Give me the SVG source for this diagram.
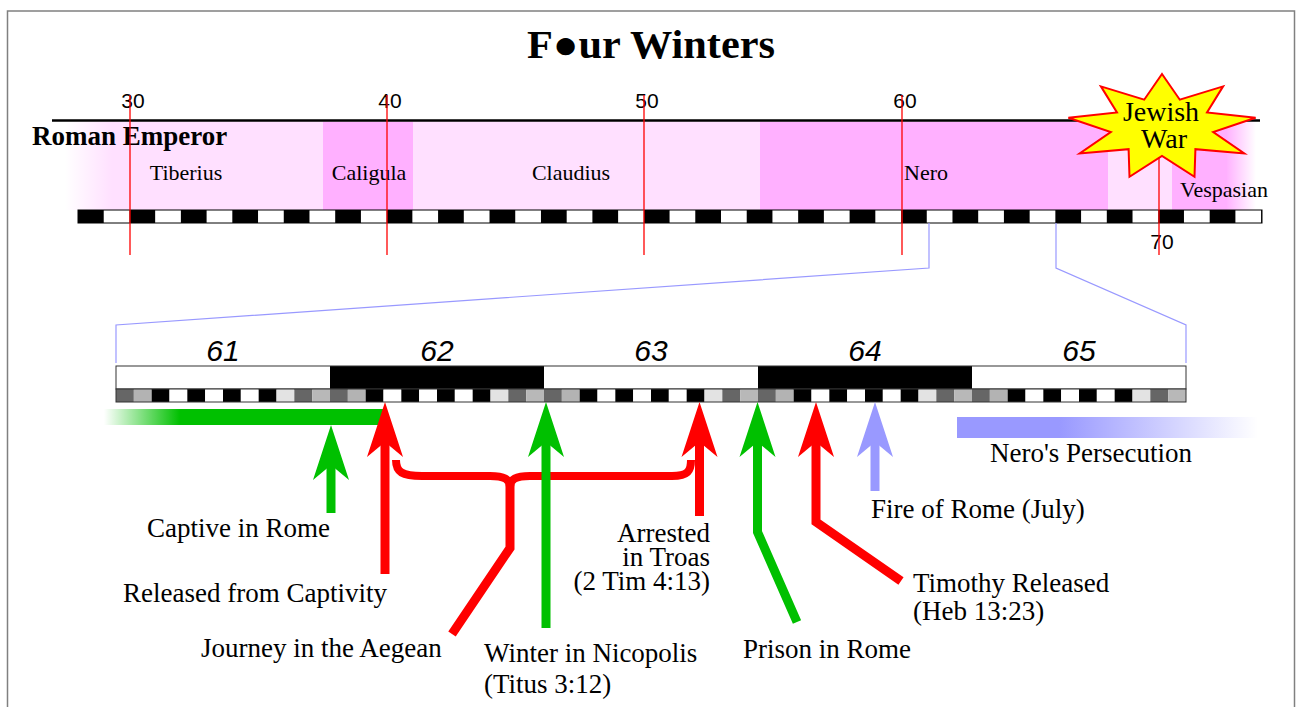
<svg xmlns="http://www.w3.org/2000/svg" width="1299" height="707" viewBox="0 0 1299 707">
<style>
.serif{font-family:"Liberation Serif","Times New Roman",serif;fill:#000}
.sans{font-family:"Liberation Sans",Arial,sans-serif;fill:#000}
.emp{font-size:22px;text-anchor:middle}
.yr{font-size:21px;text-anchor:middle}
.yr2{font-size:30px;font-style:italic;text-anchor:middle}
.lbl{font-size:27px}
.shaft{fill:none;stroke-width:9;stroke-linejoin:miter;stroke-linecap:butt}
.yline{stroke:#ff0000;stroke-width:1.3}
.conn{stroke:#9999ff;stroke-width:1.2;fill:none}
</style>
<defs>
<linearGradient id="tibG" gradientUnits="userSpaceOnUse" x1="65" y1="0" x2="112" y2="0">
<stop offset="0" stop-color="#ffe0ff" stop-opacity="0"/><stop offset="1" stop-color="#ffe0ff" stop-opacity="1"/>
</linearGradient>
<linearGradient id="vesG" gradientUnits="userSpaceOnUse" x1="1226" y1="0" x2="1256" y2="0">
<stop offset="0" stop-color="#ffb0ff" stop-opacity="1"/><stop offset="1" stop-color="#ffb0ff" stop-opacity="0"/>
</linearGradient>
<linearGradient id="grnG" gradientUnits="userSpaceOnUse" x1="104" y1="0" x2="180" y2="0">
<stop offset="0" stop-color="#00c000" stop-opacity="0"/><stop offset="1" stop-color="#00c000" stop-opacity="1"/>
</linearGradient>
<linearGradient id="nerG" gradientUnits="userSpaceOnUse" x1="957" y1="0" x2="1258" y2="0">
<stop offset="0" stop-color="#9999ff" stop-opacity="1"/><stop offset="0.34" stop-color="#9999ff" stop-opacity="1"/><stop offset="1" stop-color="#9999ff" stop-opacity="0"/>
</linearGradient>
<pattern id="chk" x="78" y="210" width="51.44" height="13" patternUnits="userSpaceOnUse">
<rect x="0" y="0" width="25.72" height="13" fill="#000"/><rect x="25.72" y="0" width="25.72" height="13" fill="#fff"/>
</pattern>
<pattern id="mon" x="116" y="389" width="214" height="13" patternUnits="userSpaceOnUse">
<rect x="0" width="17.84" height="13" fill="#666"/>
<rect x="17.83" width="17.84" height="13" fill="#b3b3b3"/>
<rect x="35.67" width="17.84" height="13" fill="#000"/>
<rect x="53.5" width="17.84" height="13" fill="#fff"/>
<rect x="71.33" width="17.84" height="13" fill="#000"/>
<rect x="89.17" width="17.84" height="13" fill="#fff"/>
<rect x="107" width="17.84" height="13" fill="#000"/>
<rect x="124.83" width="17.84" height="13" fill="#fff"/>
<rect x="142.67" width="17.84" height="13" fill="#000"/>
<rect x="160.5" width="17.84" height="13" fill="#e3e3e3"/>
<rect x="178.33" width="17.84" height="13" fill="#666"/>
<rect x="196.17" width="17.83" height="13" fill="#b8b8b8"/>
</pattern>
</defs>

<rect x="0" y="0" width="1299" height="707" fill="#fff"/>
<rect id="frame" x="7.5" y="11" width="1287" height="720" fill="none" stroke="#808080" stroke-width="1.5"/>

<text id="title" class="serif" x="651" y="58" font-size="40" font-weight="bold" text-anchor="middle" textLength="248" lengthAdjust="spacingAndGlyphs">F●ur Winters</text>

<g id="emperors">
<rect x="65" y="121.5" width="50" height="88.5" fill="url(#tibG)"/>
<rect x="112" y="121.5" width="211" height="88.5" fill="#ffe0ff"/>
<rect x="323" y="121.5" width="90" height="88.5" fill="#ffb0ff"/>
<rect x="413" y="121.5" width="347" height="88.5" fill="#ffe0ff"/>
<rect x="760" y="121.5" width="348" height="88.5" fill="#ffb0ff"/>
<rect x="1108" y="121.5" width="64" height="88.5" fill="#ffe0ff"/>
<rect x="1172" y="121.5" width="55" height="88.5" fill="#ffb0ff"/>
<rect x="1226" y="121.5" width="31" height="88.5" fill="url(#vesG)"/>
<line x1="52" y1="120.5" x2="1260" y2="120.5" stroke="#000" stroke-width="2.4"/>
<text class="serif" x="32" y="145" font-size="27" font-weight="bold">Roman Emperor</text>
<text class="serif emp" x="186" y="180">Tiberius</text>
<text class="serif emp" x="369" y="180">Caligula</text>
<text class="serif emp" x="571" y="180">Claudius</text>
<text class="serif emp" x="926" y="180">Nero</text>
<text class="serif emp" x="1224" y="197">Vespasian</text>
</g>

<g id="scale-top">
<rect x="78" y="210" width="1184" height="13" fill="url(#chk)" stroke="#000" stroke-width="1"/>
<text class="sans yr" x="133" y="108">30</text>
<text class="sans yr" x="390" y="108">40</text>
<text class="sans yr" x="647" y="108">50</text>
<text class="sans yr" x="905" y="108">60</text>
<text class="sans yr" x="1162" y="249">70</text>
<line class="yline" x1="130" y1="95" x2="130" y2="255"/>
<line class="yline" x1="387" y1="95" x2="387" y2="255"/>
<line class="yline" x1="644" y1="95" x2="644" y2="255"/>
<line class="yline" x1="902" y1="95" x2="902" y2="255"/>
</g>

<g id="jewish-war">
<polygon points="1162,74 1179.8,99.7 1223.1,86.4 1207,112.5 1255.6,117.8 1213.2,132 1244.3,153.5 1195.4,149.2 1194.5,176.8 1162,156 1129.5,176.8 1128.6,149.2 1079.7,153.5 1110.8,132 1068.4,117.8 1117,112.5 1100.9,86.4 1144.2,99.7" fill="#ffff00" stroke="#ff0000" stroke-width="2" stroke-linejoin="miter"/>
<text class="serif" x="1161" y="121" font-size="28" text-anchor="middle">Jewish</text>
<text class="serif" x="1164" y="148" font-size="28" text-anchor="middle">War</text>
<line class="yline" x1="1159" y1="157" x2="1159" y2="255"/>
</g>

<g id="zoom-connectors">
<polyline class="conn" points="116,363 116,325 929,268 929,223"/>
<polyline class="conn" points="1056,223 1056,268 1186,325 1186,363"/>
</g>

<g id="scale-detail">
<rect x="116" y="366" width="214" height="23" fill="#fff"/>
<rect x="330" y="366" width="214" height="23" fill="#000"/>
<rect x="544" y="366" width="214" height="23" fill="#fff"/>
<rect x="758" y="366" width="214" height="23" fill="#000"/>
<rect x="972" y="366" width="214" height="23" fill="#fff"/>
<rect x="116" y="366" width="1070" height="23" fill="none" stroke="#333" stroke-width="1"/>
<rect x="116" y="389" width="1070" height="13" fill="url(#mon)" stroke="#333" stroke-width="1"/>
<text class="sans yr2" x="223" y="361">61</text>
<text class="sans yr2" x="437" y="361">62</text>
<text class="sans yr2" x="651" y="361">63</text>
<text class="sans yr2" x="865" y="361">64</text>
<text class="sans yr2" x="1079" y="361">65</text>
</g>

<g id="periods">
<rect x="104" y="409" width="279" height="16" fill="url(#grnG)"/>
<rect x="957" y="417" width="301" height="21" fill="url(#nerG)"/>
<text class="serif lbl" x="990" y="462">Nero's Persecution</text>
</g>

<g id="connectors">
<g id="captive" fill="#00c000" stroke="#00c000">
<path class="shaft" d="M331,462 V513"/>
<polygon stroke="none" points="331,425 349,480 331,465 313,480"/>
</g>
<g id="released" fill="#ff0000" stroke="#ff0000">
<path class="shaft" d="M385,440 V574"/>
<polygon stroke="none" points="385,402 403,457 385,442 367,457"/>
</g>
<g id="journey">
<path d="M396,460 C396,472 402,476 422,476 L490,476 C504,476 510,479 510,487 C510,479 516,476 530,476 L672,476 C688,476 691,471 691,460" fill="none" stroke="#ff0000" stroke-width="8"/>
<path d="M510,484 V548 L452,634" fill="none" stroke="#ff0000" stroke-width="9" stroke-linejoin="miter"/>
</g>
<g id="winter" fill="#00c000" stroke="#00c000">
<path class="shaft" d="M546,440 V628"/>
<polygon stroke="none" points="546,402 564,457 546,442 528,457"/>
</g>
<g id="arrested" fill="#ff0000" stroke="#ff0000">
<path class="shaft" d="M699.5,440 V516"/>
<polygon stroke="none" points="699.5,402 717.5,457 699.5,442 681.5,457"/>
</g>
<g id="prison" fill="#00c000" stroke="#00c000">
<path class="shaft" d="M757.5,440 V532 L797,622"/>
<polygon stroke="none" points="757.5,402 775.5,457 757.5,442 739.5,457"/>
</g>
<g id="timothy" fill="#ff0000" stroke="#ff0000">
<path class="shaft" d="M816,440 V522 L901,581"/>
<polygon stroke="none" points="816,402 834,457 816,442 798,457"/>
</g>
<g id="fire" fill="#9999ff" stroke="#9999ff">
<path class="shaft" d="M875,440 V491"/>
<polygon stroke="none" points="875,402 893,457 875,442 857,457"/>
</g>
</g>

<g id="labels">
<text id="t-captive" class="serif lbl" x="147" y="537">Captive in Rome</text>
<text id="t-released" class="serif lbl" x="123" y="602">Released from Captivity</text>
<text id="t-journey" class="serif lbl" x="201" y="657">Journey in the Aegean</text>
<text id="t-winter" class="serif lbl" x="484" y="662">Winter in Nicopolis<tspan x="484" y="693">(Titus 3:12)</tspan></text>
<text id="t-arrested" class="serif lbl" text-anchor="end" x="710" y="542">Arrested<tspan x="710" y="566">in Troas</tspan><tspan x="710" y="590">(2 Tim 4:13)</tspan></text>
<text id="t-prison" class="serif lbl" x="743" y="658">Prison in Rome</text>
<text id="t-fire" class="serif lbl" x="871" y="518">Fire of Rome (July)</text>
<text id="t-timothy" class="serif lbl" x="913" y="592">Timothy Released<tspan x="913" y="620">(Heb 13:23)</tspan></text>
</g>
</svg>
